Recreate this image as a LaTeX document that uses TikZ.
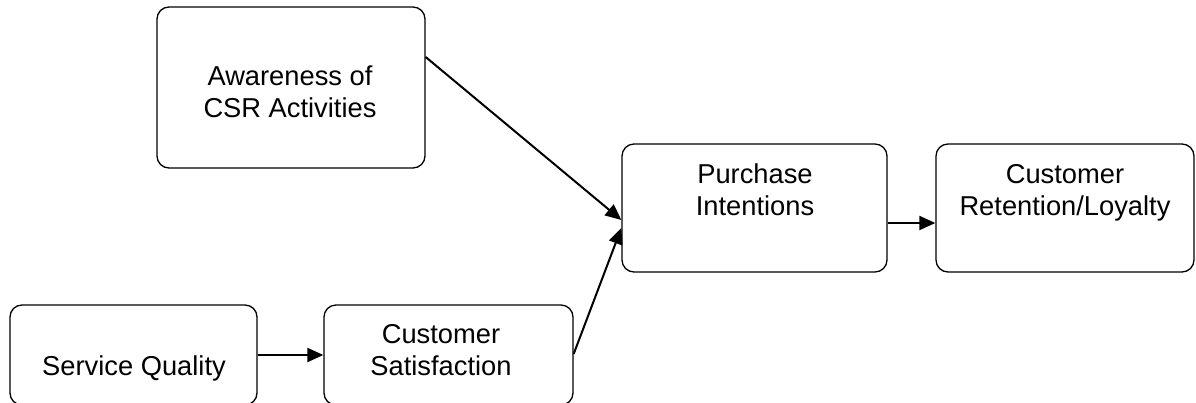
\documentclass[tikz,border=0pt]{standalone}
\usepackage{fontspec}
\setmainfont{Liberation Sans}
\usetikzlibrary{arrows.meta}
\newcommand\Ln{\rule{0pt}{22pt}}
\begin{document}
\begin{tikzpicture}[x=1pt,y=-1pt,
  box/.style={draw, line width=1.3pt, rounded corners=12pt, inner sep=0pt},
  lbl/.style={font=\fontsize{27.3}{32.5}\selectfont, align=center, inner sep=0pt, anchor=north},
  arr/.style={line width=2pt, -{Triangle[length=16pt,width=14pt]}}]
\useasboundingbox (0,0) rectangle (1196,402);
% boxes
\node[box, minimum width=268pt, minimum height=161pt] (aw) at (291,87.5) {};
\node[box, minimum width=265pt, minimum height=128pt] (pi) at (754.5,208) {};
\node[box, minimum width=258pt, minimum height=128pt] (ret) at (1065,208) {};
\node[box, minimum width=247pt, minimum height=100pt] (sq) at (133.5,355) {};
\node[box, minimum width=249pt, minimum height=100pt] (cs) at (448.5,355) {};
% labels
\node[lbl] (awt) at (290,63) {\Ln Awareness of\\\Ln CSR Activities};
\node[lbl] (pit) at (755,161) {\Ln Purchase\\\Ln Intentions};
\node[lbl] (rett) at (1065,161) {\Ln Customer\\\Ln Retention/Loyalty};
\node[lbl] (sqt) at (134,353) {\Ln Service Quality};
\node[lbl] (cst) at (441,321) {\Ln Customer\\\Ln Satisfaction};
% connectors
\draw[arr] ([yshift=30.5pt]aw.east) -- ([yshift=-12pt]pi.west);
\draw[arr] ([yshift=1pt]cs.east) -- ([yshift=-20pt]pi.west);
\draw[arr] (sq.east) -- (cs.west);
\draw[arr] ([yshift=-15pt]pi.east) -- ([yshift=-15pt]ret.west);
\end{tikzpicture}
\end{document}
